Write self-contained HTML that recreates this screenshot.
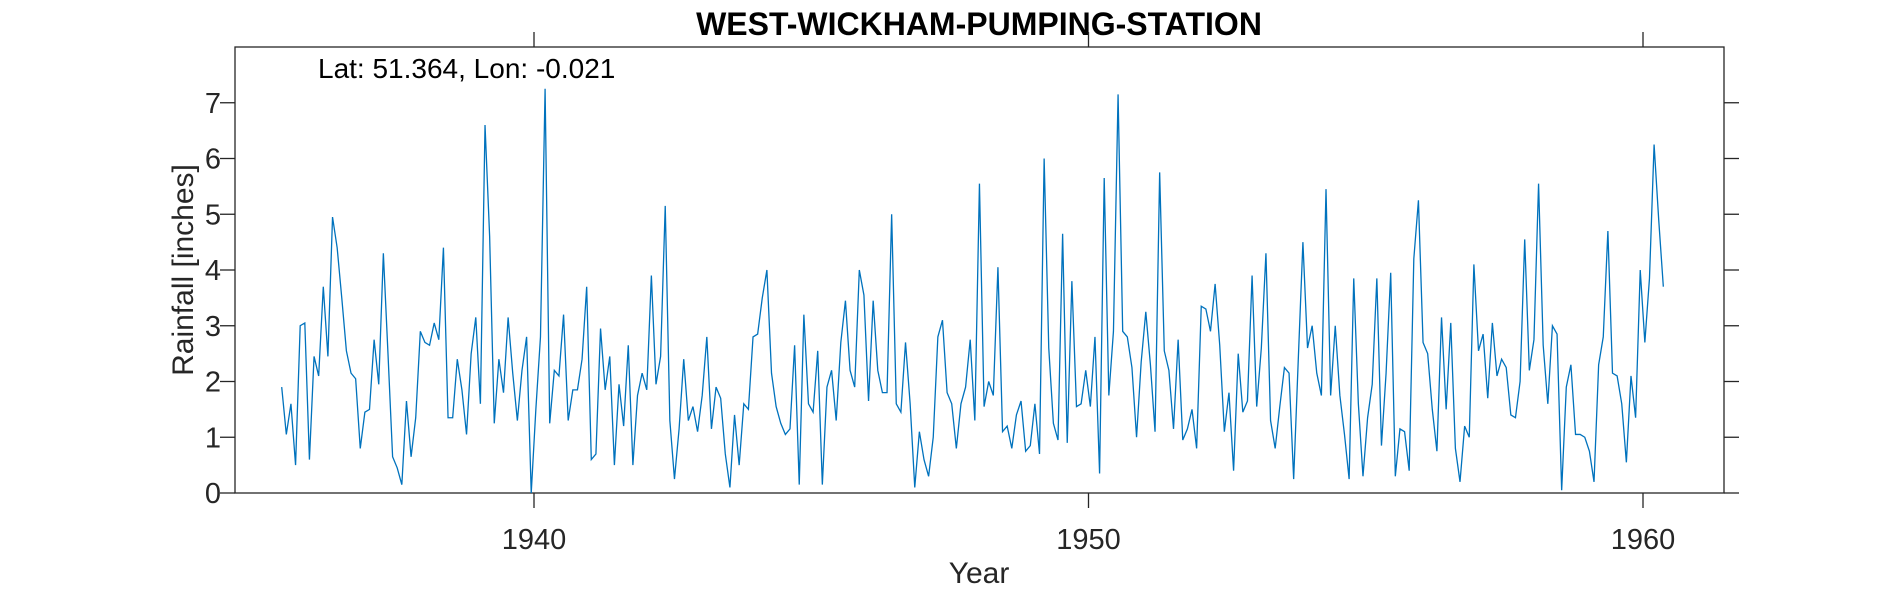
<!DOCTYPE html>
<html><head><meta charset="utf-8"><style>
body{margin:0;background:#fff;}
svg{display:block;font-family:"Liberation Sans",Arial,sans-serif;}
</style></head><body>
<svg id="chart" width="1890" height="591" viewBox="0 0 1890 591">
<rect x="0" y="0" width="1890" height="591" fill="#fff"/>
<text x="979" y="35" text-anchor="middle" font-size="32" font-weight="bold">WEST-WICKHAM-PUMPING-STATION</text>
<g id="axes"></g>
<polyline id="series" fill="none" stroke="#0072bd" stroke-width="1.3"/>
<text x="318" y="78" font-size="28">Lat: 51.364, Lon: -0.021</text>
<text x="979" y="583" text-anchor="middle" font-size="30" fill="#262626">Year</text>
<text transform="translate(193,270) rotate(-90)" text-anchor="middle" font-size="30" fill="#262626">Rainfall [inches]</text>
</svg>
<script>
const startYear = 1935.45;
const monthStep = 1/12;
const rainfall = [1.9,1.05,1.6,0.5,3.0,3.05,0.6,2.45,2.1,3.7,2.45,4.95,4.4,3.5,2.55,2.15,2.05,0.8,1.45,1.5,2.75,1.95,4.3,2.5,0.65,0.45,0.15,1.65,0.65,1.35,2.9,2.7,2.65,3.05,2.75,4.4,1.35,1.35,2.4,1.85,1.05,2.5,3.15,1.6,6.6,4.6,1.25,2.4,1.8,3.15,2.15,1.3,2.2,2.8,0.0,1.5,2.8,7.25,1.25,2.2,2.1,3.2,1.3,1.85,1.85,2.4,3.7,0.6,0.7,2.95,1.85,2.45,0.5,1.95,1.2,2.65,0.5,1.75,2.15,1.85,3.9,1.95,2.45,5.15,1.3,0.25,1.15,2.4,1.3,1.55,1.1,1.75,2.8,1.15,1.9,1.7,0.7,0.1,1.4,0.5,1.6,1.5,2.8,2.85,3.5,4.0,2.15,1.55,1.25,1.05,1.15,2.65,0.15,3.2,1.6,1.45,2.55,0.15,1.9,2.2,1.3,2.7,3.45,2.2,1.9,4.0,3.55,1.65,3.45,2.2,1.8,1.8,5.0,1.6,1.45,2.7,1.6,0.1,1.1,0.6,0.3,1.0,2.8,3.1,1.8,1.6,0.8,1.6,1.9,2.75,1.3,5.55,1.55,2.0,1.75,4.05,1.1,1.2,0.8,1.4,1.65,0.75,0.85,1.6,0.7,6.0,2.6,1.25,0.95,4.65,0.9,3.8,1.55,1.6,2.2,1.55,2.8,0.35,5.65,1.75,2.9,7.15,2.9,2.8,2.25,1.0,2.35,3.25,2.3,1.1,5.75,2.55,2.2,1.15,2.75,0.95,1.15,1.5,0.8,3.35,3.3,2.9,3.75,2.65,1.1,1.8,0.4,2.5,1.45,1.65,3.9,1.55,2.6,4.3,1.3,0.8,1.55,2.25,2.15,0.25,2.4,4.5,2.6,3.0,2.15,1.75,5.45,1.75,3.0,1.75,1.05,0.25,3.85,1.6,0.3,1.35,1.95,3.85,0.85,2.15,3.95,0.3,1.15,1.1,0.4,4.2,5.25,2.7,2.5,1.5,0.75,3.15,1.5,3.05,0.8,0.2,1.2,1.0,4.1,2.55,2.85,1.7,3.05,2.1,2.4,2.25,1.4,1.35,2.0,4.55,2.2,2.75,5.55,2.65,1.6,3.0,2.85,0.05,1.9,2.3,1.05,1.05,1.0,0.75,0.2,2.3,2.8,4.7,2.15,2.1,1.6,0.55,2.1,1.35,4.0,2.7,3.85,6.25,4.9,3.7];
const xTicks = [1940, 1950, 1960];
const yTicks = [0,1,2,3,4,5,6,7];

const L=235,R=1724,T=47,B=493;
const x1940=534, pxPerYear=55.45;
const xMin=1940-(x1940-L)/pxPerYear, xMax=1940+(R-x1940)/pxPerYear;
const yMin=0,yMax=8;
const xs=v=>L+(v-xMin)/(xMax-xMin)*(R-L);
const ys=v=>B-(v-yMin)/(yMax-yMin)*(B-T);
const NS='http://www.w3.org/2000/svg';
const ax=document.getElementById('axes');
const TL=15;
function mk(tag,attrs){const e=document.createElementNS(NS,tag);for(const k in attrs)e.setAttribute(k,attrs[k]);return e;}
const box=mk('rect',{x:L,y:T,width:R-L,height:B-T,fill:'none',stroke:'#262626','stroke-width':1.3});


ax.appendChild(box);
yTicks.forEach(v=>{
  const y=ys(v);
  const t1=mk('line',{x1:L-TL,x2:L,y1:y,y2:y,stroke:'#262626','stroke-width':1.3});
  
  
  ax.appendChild(t1);
  const t2=mk('line',{x1:R,x2:R+TL,y1:y,y2:y,stroke:'#262626','stroke-width':1.3});
  
  
  ax.appendChild(t2);
  const lb=mk('text',{x:L-14,y:y+10,'text-anchor':'end','font-size':29,fill:'#262626'});
  lb.textContent=v;
  
  
  ax.appendChild(lb);
});
xTicks.forEach(v=>{
  const x=xs(v);
  const t1=mk('line',{x1:x,x2:x,y1:B,y2:B+TL,stroke:'#262626','stroke-width':1.3});
  
  
  ax.appendChild(t1);
  const t2=mk('line',{x1:x,x2:x,y1:T-TL,y2:T,stroke:'#262626','stroke-width':1.3});
  
  
  ax.appendChild(t2);
  const lb=mk('text',{x:x,y:B+56,'text-anchor':'middle','font-size':29,fill:'#262626'});
  lb.textContent=v;
  
  
  ax.appendChild(lb);
});
document.getElementById('series').setAttribute('points',
  rainfall.map((v,i)=>xs(startYear+i*monthStep).toFixed(2)+','+ys(v).toFixed(2)).join(' '));
</script>
</body></html>
